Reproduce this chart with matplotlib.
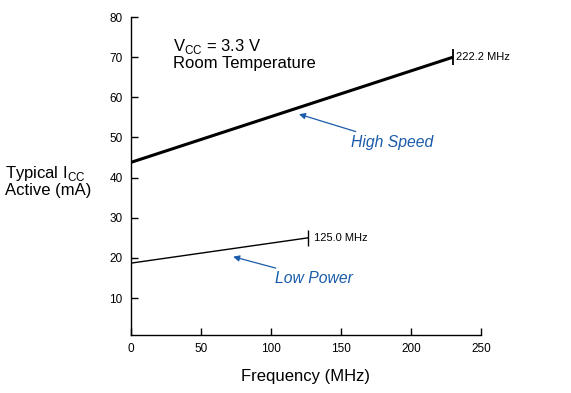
import matplotlib
matplotlib.use("Agg")
from matplotlib import pyplot as plt

plt.rcParams["font.family"] = ["Liberation Sans", "DejaVu Sans"]

# data
hs_freq = [0, 230]
hs_icc = [43.8, 70]
lp_freq = [0, 126.5]
lp_icc = [18.7, 25]
xticks = [0, 50, 100, 150, 200, 250]
yticks = [10, 20, 30, 40, 50, 60, 70, 80]

blue = "#1a5cab"

fig = plt.figure(figsize=(5.71, 3.93), dpi=100)
ax = fig.add_axes([0.2294, 0.1476, 0.6130, 0.8091])

ax.plot(hs_freq, hs_icc, color="black", lw=2.2, solid_capstyle="butt")
ax.plot(lp_freq, lp_icc, color="black", lw=1.0, solid_capstyle="butt")
ax.plot(hs_freq[-1], hs_icc[-1], marker="|", color="black", ms=11, mew=1.3)
ax.plot(lp_freq[-1], lp_icc[-1], marker="|", color="black", ms=11, mew=1.0)

ax.text(hs_freq[-1] + 2, hs_icc[-1], "222.2 MHz", fontsize=8, va="center")
ax.text(lp_freq[-1] + 4, lp_icc[-1], "125.0 MHz", fontsize=8, va="center")

ax.annotate("High Speed", xy=(120, 55.8), xytext=(157, 48.7), fontsize=11.3,
            style="italic", color=blue, va="center", ha="left",
            arrowprops=dict(arrowstyle="-|>", color=blue, lw=0.9,
                            mutation_scale=9, shrinkA=2, shrinkB=0))
ax.annotate("Low Power", xy=(73, 20.3), xytext=(103, 14.9), fontsize=11.3,
            style="italic", color=blue, va="center", ha="left",
            arrowprops=dict(arrowstyle="-|>", color=blue, lw=0.9,
                            mutation_scale=9, shrinkA=0, shrinkB=0))

ax.text(30, 70.8, "V$_{\\mathregular{CC}}$ = 3.3 V\nRoom Temperature", fontsize=12,
        va="center", ha="left", linespacing=1.05)

ax.set_xlim(0, 250)
ax.set_ylim(0.8, 80)
ax.set_xticks(xticks)
ax.set_yticks(yticks)
ax.tick_params(direction="in", length=5, width=1, labelsize=8.5, pad=6)
for s in ["top", "right"]:
    ax.spines[s].set_visible(False)
for s in ["left", "bottom"]:
    ax.spines[s].set_linewidth(1)

ax.set_xlabel("Frequency (MHz)", fontsize=12, labelpad=10)
fig.text(0.009, 0.54, "Typical I$_{\\mathregular{CC}}$\nActive (mA)", fontsize=12,
         ha="left", va="center", linespacing=1.0)

plt.savefig("out.png", dpi=100)
